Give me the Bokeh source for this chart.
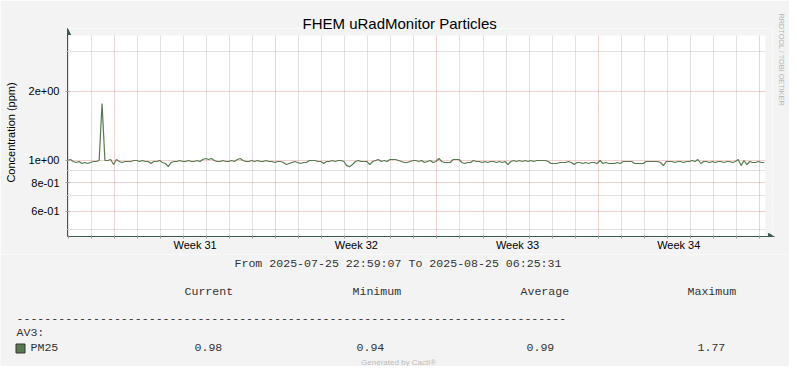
import pandas as pd
from bokeh.plotting import figure
from bokeh.layouts import column, row
from bokeh.models import Range1d, FixedTicker, Title, Arrow, NormalHead, BoxAnnotation
from bokeh.core.properties import value
from bokeh.embed import file_html
from bokeh.resources import INLINE

# ---------------- data ----------------
title_text = "FHEM uRadMonitor Particles"
y_label = "Concentration (ppm)"
start_time = "2025-07-25 22:59:07"
end_time = "2025-08-25 06:25:31"
sample_step = "3h"

pm25 = [
    1.00, 1.01, 0.99, 0.98, 0.99, 0.97, 0.98, 0.97, 0.98, 0.99,
    0.99, 1.00, 1.77, 1.00, 1.00, 1.01, 0.96, 1.01, 0.99, 0.98,
    0.99, 0.99, 0.99, 1.00, 1.00, 0.99, 1.00, 0.99, 0.99, 0.97,
    0.99, 0.99, 1.00, 0.98, 0.97, 0.94, 0.98, 0.99, 0.99, 1.00,
    0.99, 0.99, 1.00, 0.99, 0.99, 1.00, 0.99, 1.01, 1.02, 1.01,
    1.02, 1.00, 0.99, 0.99, 1.00, 0.99, 0.99, 1.00, 0.99, 1.01,
    1.02, 1.00, 0.99, 0.99, 1.00, 0.99, 1.00, 0.99, 0.99, 1.00,
    0.99, 0.99, 0.98, 0.99, 0.99, 0.98, 0.96, 0.97, 0.98, 0.99,
    0.98, 0.97, 0.98, 0.98, 1.00, 1.00, 1.00, 0.99, 0.99, 0.97,
    0.99, 0.99, 1.00, 0.99, 1.00, 1.00, 0.99, 0.95, 0.94, 0.96,
    0.99, 1.00, 0.99, 0.99, 0.99, 0.96, 0.99, 1.00, 1.01, 0.99,
    1.00, 0.99, 1.01, 1.01, 1.01, 1.00, 0.99, 0.98, 0.98, 0.99,
    1.00, 1.00, 0.99, 1.00, 0.98, 0.99, 1.00, 0.98, 0.99, 1.02,
    0.99, 0.98, 0.98, 0.98, 1.01, 1.01, 1.01, 0.98, 0.97, 0.98,
    0.98, 1.00, 0.99, 0.99, 0.98, 0.99, 0.98, 0.99, 0.99, 0.98,
    0.99, 0.98, 0.99, 0.96, 0.99, 1.00, 0.99, 1.00, 0.99, 1.00,
    0.99, 1.00, 0.99, 1.00, 1.00, 1.00, 1.00, 0.99, 0.97, 0.97,
    0.97, 0.98, 0.98, 0.98, 0.99, 0.98, 0.96, 0.98, 0.98, 0.97,
    0.98, 0.97, 0.98, 0.98, 0.97, 1.00, 0.97, 0.98, 0.97, 0.97,
    0.97, 0.98, 0.97, 0.99, 0.99, 0.99, 0.99, 0.97, 0.97, 0.97,
    0.97, 0.99, 0.99, 0.99, 0.99, 0.99, 0.98, 0.95, 0.99, 0.99,
    0.99, 0.98, 0.99, 0.99, 0.98, 0.99, 0.99, 1.00, 0.99, 1.01,
    0.97, 0.99, 0.99, 0.98, 0.99, 0.98, 0.99, 0.99, 0.98, 0.99,
    0.99, 0.98, 0.99, 1.01, 0.95, 1.00, 0.96, 0.99, 0.98, 0.98,
    0.99, 0.98, 0.98,
]

week_labels = ["Week 31", "Week 32", "Week 33", "Week 34"]
week_starts = ["2025-07-28", "2025-08-04", "2025-08-11", "2025-08-18", "2025-08-25"]
first_day, last_day = "2025-07-26", "2025-08-25"

y_major = [0.6, 0.8, 1.0, 2.0]
y_major_labels = ["6e-01", "8e-01", "1e+00", "2e+00"]
y_minor = [0.5, 0.7, 0.9, 3.0]
y_limits = [0.466, 3.51]

series_group = "AV3:"
series_name = "PM25"
stat_names = ["Current", "Minimum", "Average", "Maximum"]
stat_values = ["0.98", "0.94", "0.99", "1.77"]
period_text = "From 2025-07-25 22:59:07 To 2025-08-25 06:25:31"
footer_text = "Generated by Cacti\u00ae"
side_text = "RRDTOOL / TOBI OETIKER"

# ---------------- helpers ----------------
def ms(s):
    return int(pd.Timestamp(s).value // 10**6)

DAY = 86400000
times = pd.date_range(start_time, periods=len(pm25), freq=sample_step)
week_ms = [ms(w) for w in week_starts]
mid_week_ms = [w + int(3.5 * DAY) for w in week_ms[:-1]]
day_ms = [ms(d) for d in pd.date_range(first_day, last_day, freq="D")]
day_minor_grid = [d for d in day_ms if d not in week_ms]

BG = "#f3f3f3"
AXIS_C = "#3b5b4e"
LINE_C = "#587a50"
MAJ_GRID = "#e07a7a"
MIN_GRID = "#bdbdbd"
SANS = "Liberation Sans"
MONO = "Liberation Mono"

# plot area is 700 x 201 px; the frame is extended by a few px (arrow room)
PLOT_W, PLOT_H, ARROW_PAD_X, ARROW_PAD_Y = 700, 201, 7, 7
t0, t1 = ms(start_time), ms(end_time)
x_end_padded = t1 + (t1 - t0) * ARROW_PAD_X / PLOT_W
y_top_padded = y_limits[1] * (y_limits[1] / y_limits[0]) ** (ARROW_PAD_Y / PLOT_H)

TOP_H = 254
# ---------------- main chart ----------------
p = figure(width=789, height=TOP_H, x_axis_type="datetime", y_axis_type="log",
           x_range=Range1d(t0, x_end_padded),
           y_range=Range1d(y_limits[0], y_top_padded),
           output_backend="svg", toolbar_location=None,
           min_border_left=67, min_border_right=15, min_border_top=28,
           min_border_bottom=18,
           background_fill_color="#ffffff", border_fill_color=BG,
           outline_line_color=None)

def set_or(model, attr, wanted, fallback):
    try:
        setattr(model, attr, wanted)
    except Exception:
        setattr(model, attr, fallback)

ttl = Title(text=title_text, align="left", offset=235,
            text_font=SANS, text_font_size="15px", text_font_style="normal",
            text_color="#000000")
set_or(ttl, "standoff", -6, 0)
p.title = ttl

credit = Title(text=side_text, align="left", vertical_align="middle", standoff=6,
               text_font=SANS, text_font_size="7.3px", text_font_style="normal",
               text_color="#b5b5b5")
set_or(credit, "offset", -15, 0)
p.add_layout(credit, "right")

xa = p.xaxis[0]
xa.ticker = FixedTicker(ticks=mid_week_ms, minor_ticks=day_ms)
xa.major_label_overrides = {t: lab for t, lab in zip(mid_week_ms, week_labels)}
xa.major_tick_out = 0
xa.major_tick_in = 0
xa.minor_tick_out = 2
xa.minor_tick_in = 1
xa.minor_tick_line_color = "#999999"
xa.major_label_standoff = 0
xa.major_label_text_font = SANS
xa.major_label_text_font_size = "11px"
xa.major_label_text_color = "#000000"
xa.axis_line_color = AXIS_C

ya = p.yaxis[0]
ya.ticker = FixedTicker(ticks=y_major, minor_ticks=y_minor)
ya.major_label_overrides = {t: lab for t, lab in zip(y_major, y_major_labels)}
ya.major_tick_out = 2
ya.major_tick_in = 2
ya.minor_tick_out = 1
ya.minor_tick_in = 1
ya.major_tick_line_color = "#999999"
ya.minor_tick_line_color = "#bbbbbb"
ya.major_label_standoff = 6
ya.major_label_text_font = SANS
ya.major_label_text_font_size = "11px"
ya.major_label_text_color = "#000000"
ya.axis_label = y_label
ya.axis_label_text_font = SANS
ya.axis_label_text_font_size = "11px"
ya.axis_label_text_font_style = "normal"
ya.axis_label_text_color = "#000000"
ya.axis_label_standoff = 9
ya.axis_line_color = AXIS_C

for g, major, minor in ((p.xgrid, week_ms, day_minor_grid),
                        (p.ygrid, y_major, y_minor)):
    g.ticker = FixedTicker(ticks=major, minor_ticks=minor)
    g.grid_line_color = MAJ_GRID
    g.grid_line_alpha = 0.7
    g.grid_line_dash = "1 1"
    g.minor_grid_line_color = MIN_GRID
    g.minor_grid_line_alpha = 0.9
    g.minor_grid_line_dash = "1 1"

# canvas-coloured strips outside the plot area (room for the axis arrows)
p.add_layout(BoxAnnotation(bottom=y_limits[1], fill_color=BG, fill_alpha=1.0,
                           line_color=None, level="underlay"))
p.add_layout(BoxAnnotation(left=t1, fill_color=BG, fill_alpha=1.0,
                           line_color=None, level="underlay"))

p.line(times, pm25, line_color=LINE_C, line_width=1.2)

p.add_layout(Arrow(end=NormalHead(size=6, fill_color=AXIS_C, line_color=AXIS_C, line_width=1),
                   x_start=0, y_start=PLOT_H, x_end=0, y_end=PLOT_H + ARROW_PAD_Y,
                   start_units="screen", end_units="screen",
                   line_color=AXIS_C, line_width=1))
p.add_layout(Arrow(end=NormalHead(size=6, fill_color=AXIS_C, line_color=AXIS_C, line_width=1),
                   x_start=PLOT_W, y_start=0, x_end=PLOT_W + ARROW_PAD_X, y_end=0,
                   start_units="screen", end_units="screen",
                   line_color=AXIS_C, line_width=1))

# ---------------- legend block (x: page px, y: px above page bottom) ----------------
LEG_H = 112
leg = figure(width=789, height=LEG_H, x_range=Range1d(0, 789), y_range=Range1d(0, LEG_H),
             output_backend="svg", toolbar_location=None,
             x_axis_location=None, y_axis_location=None,
             min_border=0, min_border_left=0, min_border_right=0,
             min_border_top=0, min_border_bottom=0,
             background_fill_color=BG, border_fill_color=BG, outline_line_color=None)
leg.grid.visible = False

col_x_head = [184, 352, 520, 687]
col_x_vals = [194, 356, 526, 697]
txt = [period_text] + stat_names + ["-" * 79, series_group, series_name] + stat_values
tx = [234] + col_x_head + [16, 16, 30] + col_x_vals
ty = [103] + [75] * 4 + [48, 34, 19] + [19] * 4
leg.text(x=tx, y=ty, text=txt, text_font=value(MONO), text_font_size="11.6px",
         text_color="#333333", text_align="left", text_baseline="middle")
leg.scatter(x=[20], y=[18], marker="square", size=9, fill_color=LINE_C,
            line_color="#333333", line_width=1)
leg.text(x=[398], y=[4], text=[footer_text], text_font=value(SANS),
         text_font_size="8px", text_color="#bbbbbb", text_align="center",
         text_baseline="middle")

layout = column(row(p), leg, spacing=0)

open("out.html", "w").write(file_html(layout, INLINE))
